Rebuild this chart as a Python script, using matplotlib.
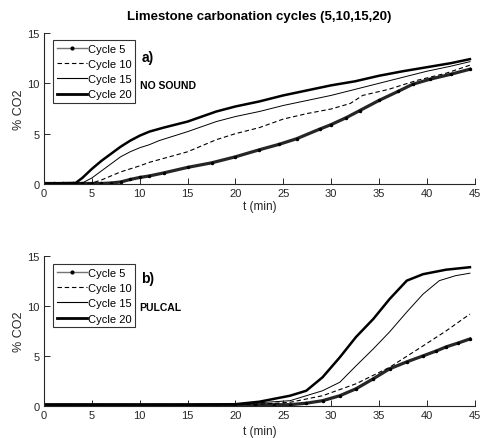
import matplotlib.pyplot as plt
from matplotlib.lines import Line2D

plt.rcParams['font.family'] = ['Liberation Sans', 'DejaVu Sans']

# panel a) NO SOUND
t_a20 = [0, 3.3, 4, 5, 6, 7, 8, 9, 10, 11, 12.5, 15, 18, 20, 22.5, 25, 27.5, 30, 32.5, 35, 37.5, 40, 42.5, 44.5]
co2_a20 = [0.05, 0.1, 0.6, 1.5, 2.3, 3.0, 3.7, 4.3, 4.8, 5.2, 5.6, 6.2, 7.2, 7.7, 8.2, 8.8, 9.3, 9.8, 10.2, 10.75, 11.2, 11.6, 12.0, 12.4]
t_a15 = [0, 4, 5, 6, 7, 8, 9, 10, 11, 12, 15, 18, 20, 22.5, 25, 27.5, 30, 32.5, 35, 37.5, 40, 42.5, 44.5]
co2_a15 = [0.05, 0.1, 0.6, 1.3, 2.0, 2.7, 3.2, 3.6, 3.9, 4.3, 5.2, 6.2, 6.7, 7.2, 7.8, 8.3, 8.8, 9.4, 10.0, 10.6, 11.2, 11.7, 12.15]
t_a10 = [0, 4.5, 5, 6, 7, 8, 9, 10, 11, 15, 18, 20, 22.5, 25, 27.5, 30, 32, 33.3, 36, 39, 42, 44.5]
co2_a10 = [0.05, 0.05, 0.1, 0.4, 0.8, 1.2, 1.5, 1.8, 2.15, 3.2, 4.4, 5.0, 5.6, 6.45, 7.0, 7.45, 8.0, 8.8, 9.4, 10.3, 11.0, 11.8]
t_a5 = [0, 1, 2, 3, 4, 5, 6, 7, 8, 9, 10, 11, 12.5, 15, 17.5, 20, 22.5, 24.6, 26.4, 28.8, 30, 31.6, 33, 35, 37, 38.5, 40.3, 42.5, 44.5]
co2_a5 = [0.05, 0.05, 0.05, 0.05, 0.05, 0.05, 0.05, 0.1, 0.2, 0.45, 0.65, 0.8, 1.1, 1.65, 2.1, 2.7, 3.4, 3.95, 4.5, 5.45, 5.9, 6.6, 7.3, 8.3, 9.2, 9.9, 10.4, 10.9, 11.4]

# panel b) PULCAL
t_b20 = [0, 5, 10, 15, 20, 22.5, 25.7, 27.4, 29.1, 30.9, 32.6, 34.4, 36.1, 37.9, 39.6, 42, 44.5]
co2_b20 = [0.1, 0.1, 0.1, 0.1, 0.15, 0.4, 1.0, 1.5, 2.85, 4.85, 6.9, 8.7, 10.7, 12.55, 13.2, 13.65, 13.9]
t_b15 = [0, 5, 10, 15, 20, 22.5, 25.7, 29.1, 30.9, 32.6, 34.4, 36.1, 37.9, 39.6, 41.3, 43, 44.5]
co2_b15 = [0.05, 0.05, 0.05, 0.05, 0.1, 0.3, 0.5, 1.5, 2.35, 4.0, 5.7, 7.4, 9.4, 11.2, 12.55, 13.05, 13.3]
t_b10 = [0, 5, 10, 15, 20, 22.5, 25.7, 29.1, 32.6, 36.1, 39.6, 42, 44.5]
co2_b10 = [0.05, 0.05, 0.05, 0.05, 0.1, 0.15, 0.34, 1.0, 2.2, 3.85, 6.0, 7.5, 9.2]
t_b5 = [0, 2, 4, 6, 8, 10, 12, 14, 16, 18, 20, 22, 24, 25.7, 27.4, 29.1, 30.9, 32.6, 34.4, 36.1, 37.9, 39.6, 41, 42, 43.3, 44.5]
co2_b5 = [0.1, 0.1, 0.1, 0.1, 0.1, 0.1, 0.1, 0.1, 0.1, 0.1, 0.1, 0.1, 0.1, 0.1, 0.25, 0.5, 1.0, 1.7, 2.7, 3.7, 4.4, 5.0, 5.5, 5.9, 6.3, 6.7]

labels = ['Cycle 5', 'Cycle 10', 'Cycle 15', 'Cycle 20']
xticks = [0, 5, 10, 15, 20, 25, 30, 35, 40, 45]
yticks = [0, 5, 10, 15]

fig = plt.figure(figsize=(4.8, 4.39), dpi=100)
ax1 = fig.add_axes([0.0917, 0.5786, 0.8973, 0.344])
ax2 = fig.add_axes([0.0917, 0.0736, 0.8973, 0.3404])

legend_handles = [
    Line2D([], [], color='0.45', lw=1.0, marker='.', ms=4, mfc='k', mec='k'),
    Line2D([], [], color='k', lw=0.8, ls=(0, (4, 2.5))),
    Line2D([], [], color='k', lw=0.8),
    Line2D([], [], color='k', lw=2.0),
]


def draw(ax, series, tag, note, legend_top, tag_y, note_y, xpad):
    (t5, c5), (t10, c10), (t15, c15), (t20, c20) = series
    ax.plot(t5, c5, color='0.15', lw=2.3, marker='.', ms=3, mfc='k', mec='k')
    ax.plot(t10, c10, color='k', lw=0.8, ls=(0, (4, 2.5)))
    ax.plot(t15, c15, color='k', lw=0.7)
    ax.plot(t20, c20, color='k', lw=1.8)
    ax.set_xlim(0, 45)
    ax.set_ylim(0, 15)
    ax.set_xticks(xticks)
    ax.set_yticks(yticks)
    ax.spines['top'].set_visible(False)
    ax.spines['right'].set_visible(False)
    for s in ['left', 'bottom']:
        ax.spines[s].set_color('0.15')
        ax.spines[s].set_linewidth(0.8)
    ax.tick_params(direction='in', length=4, width=0.7, labelsize=8,
                   colors='0.15', pad=3)
    ax.set_xlabel('t (min)', fontsize=8.5, color='0.15', labelpad=xpad)
    ax.set_ylabel('% CO2', fontsize=9, color='0.15', labelpad=2)
    leg = ax.legend(legend_handles, labels, loc='upper left',
                    bbox_to_anchor=(0.02, legend_top), borderaxespad=0,
                    fontsize=8, frameon=True, fancybox=False,
                    handlelength=2.7, handletextpad=0.1, labelspacing=0.47,
                    borderpad=0.35)
    leg.get_frame().set_edgecolor('k')
    leg.get_frame().set_linewidth(0.8)
    ax.text(0.226, tag_y, tag, transform=ax.transAxes,
            fontsize=10, fontweight='bold', va='center', ha='left')
    ax.text(0.222, note_y, note, transform=ax.transAxes,
            fontsize=7.5, fontweight='bold', va='center', ha='left')


draw(ax1, [(t_a5, co2_a5), (t_a10, co2_a10), (t_a15, co2_a15), (t_a20, co2_a20)],
     'a)', 'NO SOUND', 0.954, 0.841, 0.655, 1)
draw(ax2, [(t_b5, co2_b5), (t_b10, co2_b10), (t_b15, co2_b15), (t_b20, co2_b20)],
     'b)', 'PULCAL', 0.948, 0.855, 0.66, 4)

ax1.set_title('Limestone carbonation cycles (5,10,15,20)', fontsize=9.5,
              fontweight='bold', pad=10)

fig.savefig('out.png', dpi=100)
